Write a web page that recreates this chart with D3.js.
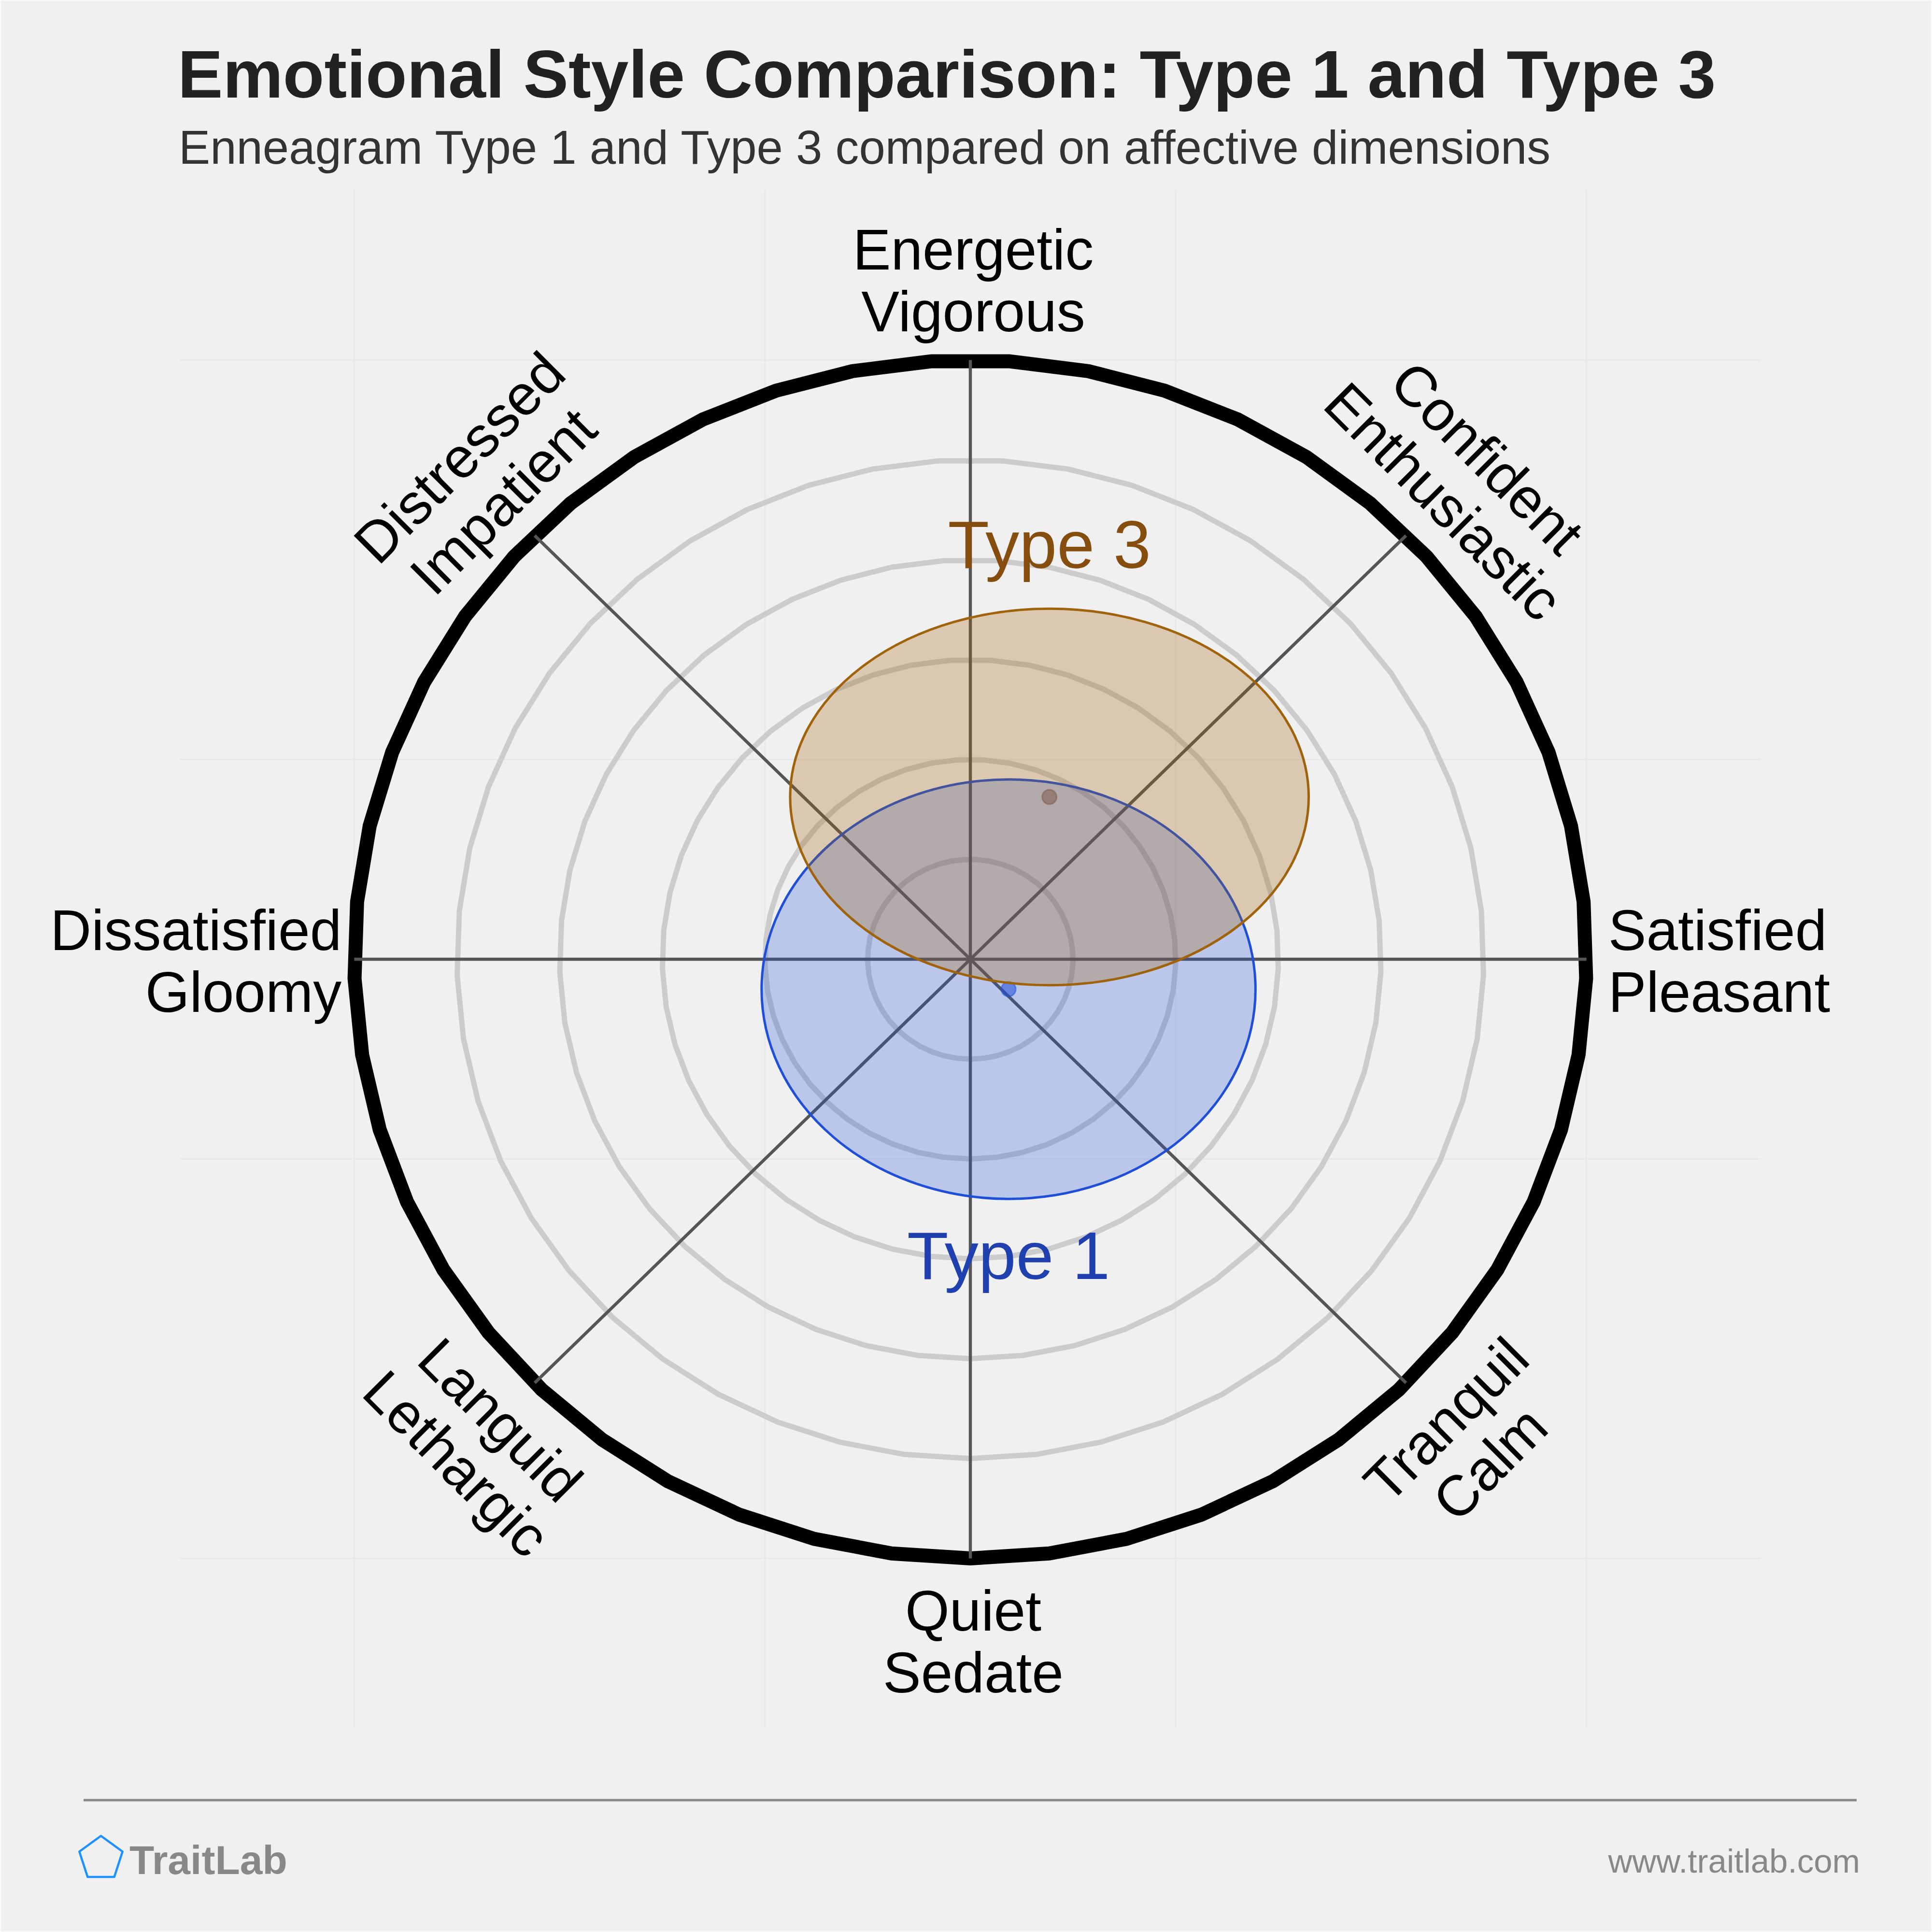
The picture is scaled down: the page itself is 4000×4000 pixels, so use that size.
<!DOCTYPE html>
<html><head><meta charset="utf-8">
<script src="https://cdn.jsdelivr.net/npm/d3@7"></script>
<style>html,body{margin:0;padding:0;background:#f0f0f0;} svg{display:block;}</style>
</head><body>
<script>
// ---------- data ----------
const titleText = "Emotional Style Comparison: Type 1 and Type 3";
const subtitleText = "Enneagram Type 1 and Type 3 compared on affective dimensions";
const axisAngles = [0, 45, 90, 135, 180, 225, 270, 315];
const axisLabels = [["Satisfied","Pleasant"],["Confident","Enthusiastic"],["Energetic","Vigorous"],["Distressed","Impatient"],["Dissatisfied","Gloomy"],["Languid","Lethargic"],["Quiet","Sedate"],["Tranquil","Calm"]];
const ringValues = [1, 2, 3, 4, 5, 6];
const gridTicks = [-6, -2, 2, 6];
const typeNames = ["Type 1", "Type 3"];
const typeCenterX = [0.372, 0.770];
const typeCenterY = [-0.300, 1.625];
const typeRadiusX = [2.405, 2.525];
const typeRadiusY = [2.100, 1.885];
const typeColors = ["#1f4fd8", "#a0620a"];
const typeTextColors = ["#2040b0", "#864e0e"];
const footerLeft = "TraitLab";
const footerRight = "www.traitlab.com";

// ---------- layout ----------
const W = 4000, H = 4000;
const FONT = "'Liberation Sans', Arial, Helvetica, sans-serif";
const x = d3.scaleLinear().domain([-7.7, 7.7]).range([372, 3646]);
const y = d3.scaleLinear().domain([-7.7, 7.7]).range([3578, 394]);
const rMax = d3.max(ringValues);
const labelR = 6.17;

const svg = d3.select("body").append("svg").attr("width", W).attr("height", H);
svg.append("rect").attr("x", 0).attr("y", 0).attr("width", W).attr("height", H)
  .attr("fill", "#f0f0f0").attr("stroke", "#fafafa").attr("stroke-width", 4);

// faint background grid
const grid = svg.append("g");
grid.selectAll("line.v").data(gridTicks).join("line")
  .attr("x1", d => x(d)).attr("x2", d => x(d)).attr("y1", y(7.7)).attr("y2", y(-7.7))
  .attr("stroke", "#e8e8e8").attr("stroke-width", 3);
grid.selectAll("line.h").data(gridTicks).join("line")
  .attr("y1", d => y(d)).attr("y2", d => y(d)).attr("x1", x(-7.7)).attr("x2", x(7.7))
  .attr("stroke", "#e8e8e8").attr("stroke-width", 3);

// ring polygons (49 sides, vertex at the bottom)
const NSIDES = 49;
const ringAngles = d3.range(NSIDES).map(k => -Math.PI / 2 + 2 * Math.PI * k / NSIDES);
const ringLine = d3.line().x(p => x(p[0])).y(p => y(p[1])).curve(d3.curveLinearClosed);
svg.append("g").selectAll("path").data(ringValues).join("path")
  .attr("d", r => ringLine(ringAngles.map(a => [r * Math.cos(a), r * Math.sin(a)])))
  .attr("fill", "none")
  .attr("stroke", r => r === rMax ? "#000000" : "#cccccc")
  .attr("stroke-width", r => r === rMax ? 29 : 11)
  .attr("stroke-linejoin", "round");

// spokes
svg.append("g").selectAll("line").data(axisAngles).join("line")
  .attr("x1", x(0)).attr("y1", y(0))
  .attr("x2", a => x(rMax * Math.cos(a * Math.PI / 180)))
  .attr("y2", a => y(rMax * Math.sin(a * Math.PI / 180)))
  .attr("stroke", "#555555").attr("stroke-width", 6.5);

// ellipses
const types = typeNames.map((n, i) => ({name: n, cx: typeCenterX[i], cy: typeCenterY[i], rx: typeRadiusX[i], ry: typeRadiusY[i], color: typeColors[i], tcolor: typeTextColors[i]}));
const fillOp = [0.26, 0.28];
const eg = svg.append("g");
types.forEach((t, i) => {
  eg.append("ellipse")
    .attr("cx", x(t.cx)).attr("cy", y(t.cy))
    .attr("rx", x(t.cx + t.rx) - x(t.cx)).attr("ry", y(t.cy) - y(t.cy + t.ry))
    .attr("fill", t.color).attr("fill-opacity", fillOp[i])
    .attr("stroke", t.color).attr("stroke-width", 5);
  eg.append("circle")
    .attr("cx", x(t.cx)).attr("cy", y(t.cy)).attr("r", 15)
    .attr("fill", i === 0 ? t.color : "#7a5a4a").attr("fill-opacity", 0.55)
    .attr("stroke", i === 0 ? t.color : "#7a5a4a").attr("stroke-opacity", 0.5).attr("stroke-width", 3);
});
// type labels
types.forEach((t, i) => {
  const above = t.cy > 0;
  svg.append("text")
    .attr("x", x(t.cx))
    .attr("y", above ? y(t.cy + t.ry) - 84 : y(t.cy - t.ry) + 166)
    .attr("text-anchor", "middle")
    .attr("font-family", FONT).attr("font-size", 140)
    .attr("fill", t.tcolor).text(t.name);
});

// axis labels
const LFS = 118, LH = 128;
const lg = svg.append("g");
axisAngles.forEach((a, i) => {
  const rad = a * Math.PI / 180;
  const ax = x(labelR * Math.cos(rad)) + 6, ay = y(labelR * Math.sin(rad));
  const m = a % 180;
  const rot = m === 45 ? 45 : (m === 135 ? -45 : 0);
  const s = Math.sin(rad);
  let baselines;
  if (s > 0.1) baselines = [-24 - LH, -24];
  else if (s < -0.1) baselines = [114, 114 + LH];
  else baselines = [-19, -19 + LH];
  const anchor = a === 0 ? "start" : (a === 180 ? "end" : "middle");
  const dx = a === 0 ? 3 : (a === 180 ? 4 : 0);
  const g = lg.append("g").attr("transform", `translate(${ax + dx},${ay}) rotate(${rot})`);
  axisLabels[i].forEach((line, j) => {
    g.append("text").attr("x", 0).attr("y", baselines[j])
      .attr("text-anchor", anchor)
      .attr("font-family", FONT).attr("font-size", LFS).attr("fill", "#000000")
      .text(line);
  });
});

// title & subtitle
svg.append("text").attr("x", 368).attr("y", 202)
  .attr("font-family", FONT).attr("font-size", 140).attr("font-weight", "bold")
  .attr("fill", "#222222").text(titleText);
svg.append("text").attr("x", 370).attr("y", 339)
  .attr("font-family", FONT).attr("font-size", 97.7)
  .attr("fill", "#333333").text(subtitleText);

// footer
svg.append("line").attr("x1", 173).attr("x2", 3844).attr("y1", 3727).attr("y2", 3727)
  .attr("stroke", "#888888").attr("stroke-width", 5);
const pcx = 209, pcy = 3848, pR = 47;
const pent = d3.range(5).map(k => {
  const an = -Math.PI / 2 + k * 2 * Math.PI / 5;
  return [pcx + pR * Math.cos(an), pcy + pR * Math.sin(an)];
});
svg.append("path").attr("d", d3.line().curve(d3.curveLinearClosed)(pent))
  .attr("fill", "none").attr("stroke", "#1e90ff").attr("stroke-width", 4.5)
  .attr("stroke-linejoin", "round");
svg.append("text").attr("x", 268).attr("y", 3880)
  .attr("font-family", FONT).attr("font-size", 84).attr("font-weight", "bold")
  .attr("fill", "#888888").text(footerLeft);
svg.append("text").attr("x", 3851).attr("y", 3877).attr("text-anchor", "end")
  .attr("font-family", FONT).attr("font-size", 69)
  .attr("fill", "#888888").text(footerRight);
</script>
</body></html>
